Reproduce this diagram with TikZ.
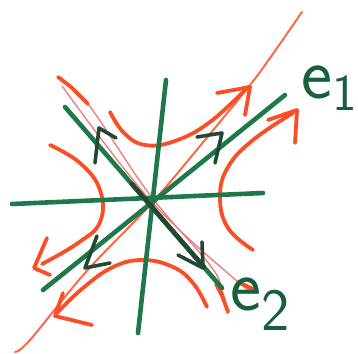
\documentclass[tikz,border=0pt]{standalone}
\usetikzlibrary{positioning}

\definecolor{penGreen}{RGB}{30,120,76}
\definecolor{penDark}{RGB}{34,72,52}
\definecolor{penOrange}{RGB}{252,78,38}
\definecolor{penPink}{RGB}{240,120,120}

\begin{document}
\begin{tikzpicture}[
  x=1pt,y=-1pt,
  line cap=round,line join=round,
  axis/.style={penGreen,line width=4.6pt},
  tip/.style={penDark,line width=3.6pt},
  trail/.style={penOrange,line width=3.8pt},
  sep/.style={penPink,line width=1.3pt},
  ray/.style={penOrange!85!white,line width=2pt},
  lbl/.style={penGreen!80!black,inner sep=0pt,font=\sffamily\fontsize{74}{74}\selectfont}
]
  \useasboundingbox (0,0) rectangle (358,353);

  % thin separatrices
  \draw[ray] plot[smooth,tension=0.6] coordinates {(15,352) (30,340) (85,273) (150,205) (200,146) (250,85) (270,58) (302,12)};
  \draw[sep] plot[smooth,tension=0.6] coordinates {(58,78) (88,104) (150,195) (210,265) (222,290) (228,312)};
  \draw[sep] plot[smooth,tension=0.6] coordinates {(62,86) (150,200) (238,282) (253,289)};
  \draw[trail] plot[smooth] coordinates {(58,77) (72,88) (88,104)};
  \draw[trail] plot[smooth] coordinates {(216,284) (222,296) (228,312)};
  \draw[trail] (238,282) -- (253,289);

  % hyperbolic trajectories
  \draw[trail] plot[smooth,tension=0.7] coordinates {(110,112) (124,133) (145,145) (175,141) (210,122) (248,87)};
  \draw[trail] (217,93) -- (250,87) -- (245,115);
  \draw[trail] plot[smooth,tension=0.7] coordinates {(293,113) (253,140) (228,167) (220,197) (228,228) (253,250)};
  \draw[trail] (268,120) -- (297,110) -- (295,143);
  \draw[trail] plot[smooth,tension=0.7] coordinates {(50,145) (80,163) (100,190) (100,222) (78,243) (42,264)};
  \draw[trail] (47,238) -- (34,268) -- (50,275);
  \draw[trail] plot[smooth,tension=0.7] coordinates {(57,313) (83,288) (113,267) (143,260) (173,267) (193,283) (207,307)};
  \draw[trail] (63,293) -- (55,316) -- (92,325);

  % axes and eigendirections
  \draw[axis] (12,204) -- (263,193);
  \draw[axis] (166,80) -- (138,333);
  \draw[axis] (43,290) -- (150,204) -- (285,95);
  \draw[axis] (65,107) -- (222,288);
  \draw[axis,penDark] (132,184) -- (204,267);

  % direction marks
  \draw[tip] (95,163) -- (99,128) -- (116,138);
  \draw[tip] (197,137) -- (222,133) -- (215,163);
  \draw[tip] (97,236) -- (85,268) -- (110,263);
  \draw[tip] (202,242) -- (203,268) -- (178,255);

  % labels
  \node[lbl,anchor=base east] (e1) at (357,98)
    {e\raisebox{-12pt}{\fontsize{52}{52}\selectfont 1}};
  \node[lbl,anchor=base west] (e2) at (230,310)
    {e\raisebox{-20pt}{\fontsize{60}{60}\selectfont 2}};
\end{tikzpicture}
\end{document}
